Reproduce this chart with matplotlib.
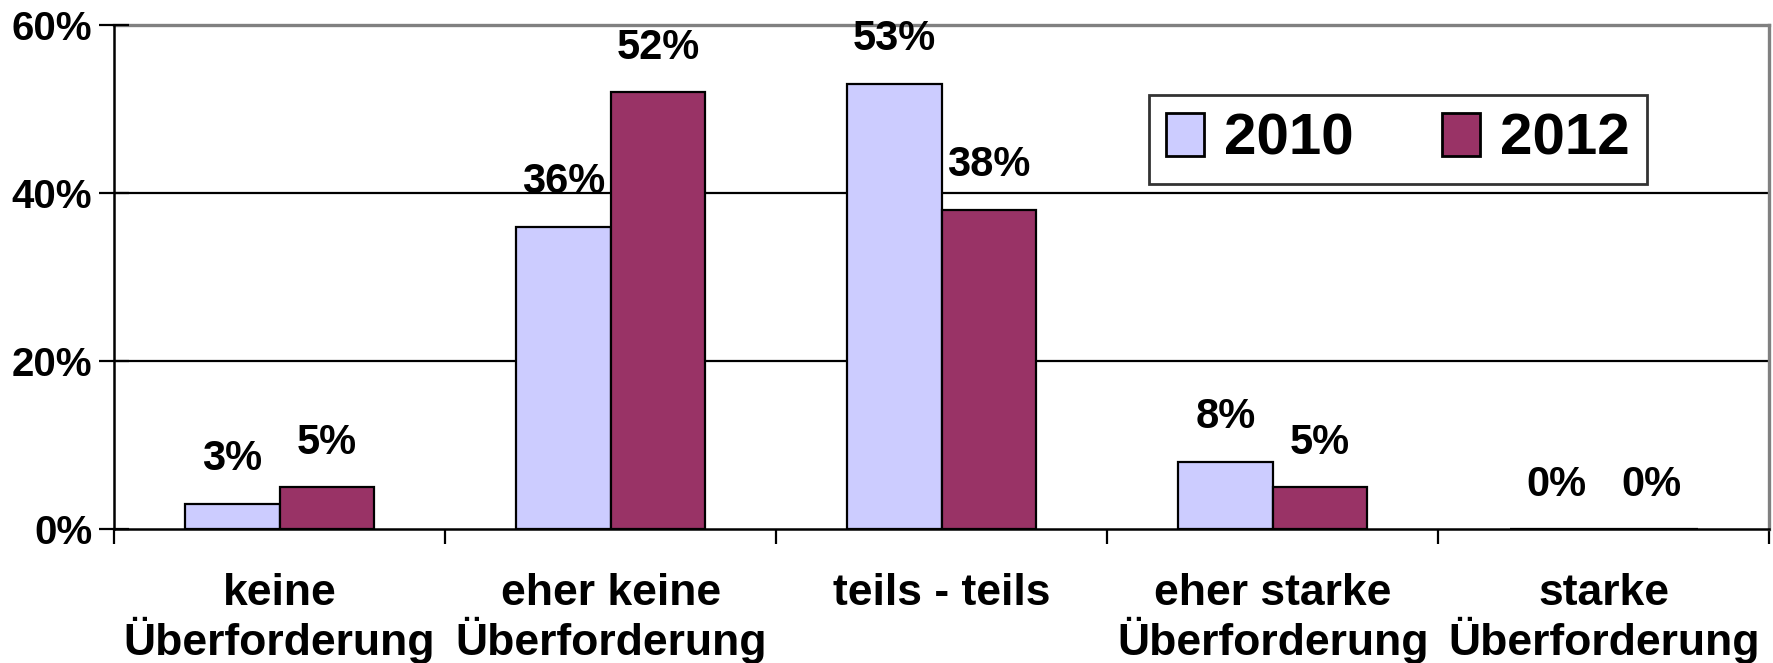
import numpy as np
import matplotlib
matplotlib.use("Agg")
import matplotlib.pyplot as plt

# ---------- data ----------
categories = ["keine\nÜberforderung", "eher keine\nÜberforderung", "teils - teils",
              "eher starke\nÜberforderung", "starke\nÜberforderung"]
years = ["2010", "2012"]
v2010 = [3, 36, 53, 8, 0]
v2012 = [5, 52, 38, 5, 0]
yticks = [0, 20, 40, 60]

C2010 = "#CCCCFF"; C2012 = "#993366"; BORDER = "#808080"
plt.rcParams["font.family"] = ["Liberation Sans", "DejaVu Sans"]
plt.rcParams["font.weight"] = "bold"

fig = plt.figure(figsize=(17.73, 6.63), dpi=100)
ax = fig.add_axes([0.0643, 0.2021, 0.9337, 0.7602])

x = np.arange(len(categories))
w = 0.285
b1 = ax.bar(x - w/2, v2010, w, color=C2010, edgecolor="black", lw=1.6, label=years[0], zorder=3)
b2 = ax.bar(x + w/2, v2012, w, color=C2012, edgecolor="black", lw=1.6, label=years[1], zorder=3)

for bars, vals in [(b1, v2010), (b2, v2012)]:
    for r, v in zip(bars, vals):
        ax.annotate(f"{v}%", (r.get_x() + r.get_width()/2, v), xytext=(0, 24),
                    textcoords="offset points", ha="center", va="baseline",
                    fontsize=30, fontweight="bold")

ax.set_xlim(-0.5, len(categories) - 0.5)
ax.set_ylim(0, 60)
ax.set_yticks(yticks)
ax.set_yticklabels([f"{t}%" for t in yticks], fontsize=29, fontweight="bold")
for t in yticks[1:-1]:
    ax.axhline(t, color="black", lw=1.6, zorder=1)

# category ticks sit on the boundaries, labels in the middle
ax.set_xticks(np.arange(len(categories) + 1) - 0.5)
ax.set_xticklabels([])
ax.set_xticks(x, minor=True)
ax.set_xticklabels(categories, minor=True, fontsize=32, fontweight="bold", linespacing=1.05)
ax.tick_params(axis="x", which="major", length=11, width=1.6, direction="out")
ax.tick_params(axis="x", which="minor", length=0, pad=32)
ax.tick_params(axis="y", length=21, width=1.6, direction="inout", pad=5)

for s in ["top", "right"]:
    ax.spines[s].set_color(BORDER); ax.spines[s].set_linewidth(2.4)
for s in ["left", "bottom"]:
    ax.spines[s].set_color("black"); ax.spines[s].set_linewidth(1.8)
ax.spines["top"].set_zorder(0.5)

leg = ax.legend(loc="upper left", bbox_to_anchor=(0.625, 0.861), ncol=2,
                prop={"weight": "bold", "size": 42}, frameon=True, fancybox=False,
                handlelength=0.65, handleheight=0.75, handletextpad=0.35, columnspacing=1.5,
                borderpad=0.3, borderaxespad=0)
leg.get_frame().set_edgecolor("black"); leg.get_frame().set_linewidth(2)
for h in leg.legend_handles:
    h.set_linewidth(2)

fig.savefig("out.png", dpi=100, facecolor="white")
